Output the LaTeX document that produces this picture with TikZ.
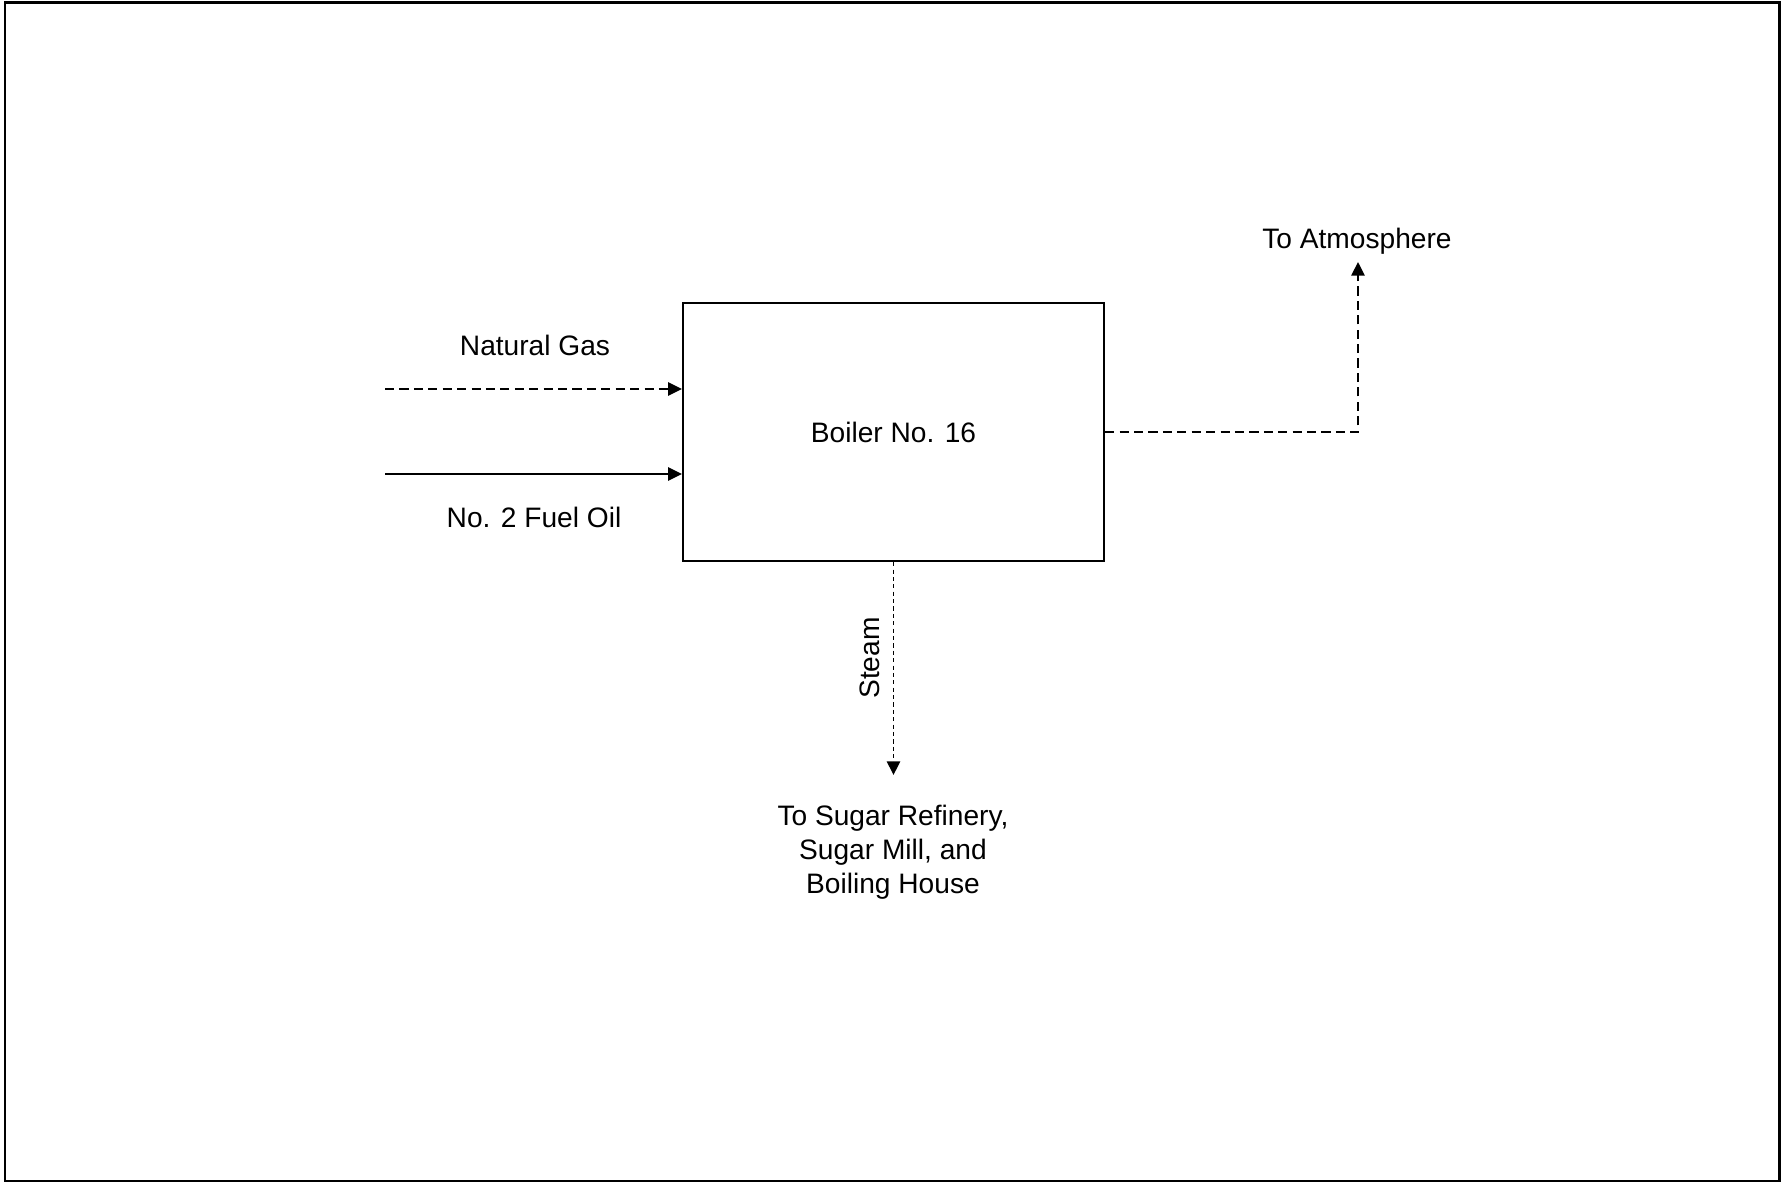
\documentclass[tikz,border=0pt]{standalone}
\usepackage{fontspec}
\setmainfont{Liberation Sans}
\usepackage{tikz}
\usetikzlibrary{arrows.meta, positioning}

\begin{document}
\begin{tikzpicture}[
    x=0.01cm, y=-0.01cm,
    every node/.style={font=\fontsize{8}{9.7}\selectfont},
    flowbox/.style={rectangle, draw, line width=0.6pt, minimum width=4.21cm, minimum height=2.58cm},
    flowlabel/.style={align=center, inner sep=1pt},
    gasline/.style={line width=0.45pt, dash pattern=on 2.6pt off 1.5pt, -{Triangle[length=3.9pt,width=3.8pt]}},
    oilline/.style={line width=0.45pt, -{Triangle[length=3.9pt,width=3.8pt]}},
    fumeline/.style={line width=0.45pt, dash pattern=on 2.6pt off 1.5pt, -{Triangle[length=3.9pt,width=3.8pt]}},
    steamline/.style={line width=0.45pt, dash pattern=on 1.2pt off 0.9pt, -{Triangle[length=3.9pt,width=3.8pt]}},
]
\useasboundingbox (0,0) rectangle (1784,1183);
\draw[line width=0.85pt] (5,3) rectangle (1779,1181);
% Boiler
\node[flowbox] (boiler) at (893.5,432) {Boiler No. 16};
% Fuel inputs
\coordinate (gasin) at (385,389);
\coordinate (oilin) at (385,474);
\draw[gasline] (gasin) -- (gasin -| boiler.west);
\draw[oilline] (oilin) -- (oilin -| boiler.west);
\node[flowlabel] (gaslabel) at (535,345) {Natural Gas};
\node[flowlabel] (oillabel) at (534,517) {No. 2 Fuel Oil};
% Exhaust
\coordinate (atmtip) at (1358,262);
\draw[fumeline] (boiler.east) -| (atmtip);
\node[flowlabel] (atmlabel) at (1357,241) {To Atmosphere};
% Steam
\coordinate (steamtip) at (boiler.south |- 0,775);
\draw[steamline] (boiler.south) -- (steamtip);
\node[flowlabel, rotate=90] (steamlabel) at (870,658) {Steam};
\node[flowlabel] (sugarlabel) at (893,852) {To Sugar Refinery,\\Sugar Mill, and\\Boiling House};
\end{tikzpicture}
\end{document}
